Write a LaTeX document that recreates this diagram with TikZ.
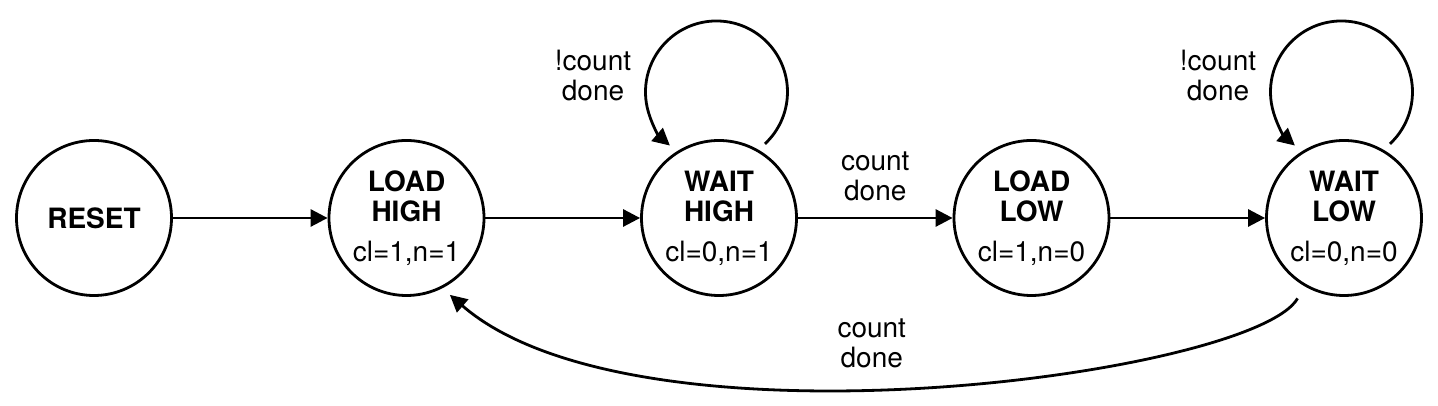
\documentclass[tikz,border=0pt]{standalone}
\usepackage{fontspec}
\setmainfont{TeX Gyre Heros}
\usepackage{tikz}
\usetikzlibrary{positioning}
\usetikzlibrary{arrows.meta}

\begin{document}
\begin{tikzpicture}
                [x=1pt, y=1pt,
                 state/.style = {draw, circle, line width=2.8pt, minimum size=155pt, inner sep=0pt,
                                 align=center, font=\fontsize{28}{30}\selectfont},
                 lbl/.style = {inner sep=0pt, align=center, font=\fontsize{28}{30}\selectfont},
                 arr/.style = {draw, line width=2.8pt, -{Triangle[length=17pt,width=17pt]}}]

                \useasboundingbox (0,0) rectangle (1438,406);

                \node[state] (rst) at (94,188) {\textbf{RESET}};
                \node[state] (lh) at (406.5,188) {\textbf{LOAD}\\\textbf{HIGH}\\[10pt]cl=1,n=1};
                \node[state] (wh) at (719,188) {\textbf{WAIT}\\\textbf{HIGH}\\[10pt]cl=0,n=1};
                \node[state] (ll) at (1031.5,188) {\textbf{LOAD}\\\textbf{LOW}\\[10pt]cl=1,n=0};
                \node[state] (wl) at (1344,188) {\textbf{WAIT}\\\textbf{LOW}\\[10pt]cl=0,n=0};

                \path (rst) edge[arr] (lh);
                \path (lh) edge[arr] (wh);
                \path (wh) edge[arr] node[lbl, above=16pt] (whll) {count\\done} (ll);
                \path (ll) edge[arr] (wl);

                % self loops
                \draw[arr] ([shift={(45.9,74.1)}]wh.center) arc[start angle=-47, end angle=229, radius=71];
                \node[lbl, anchor=south] (whwh) at ([shift={(-126,117)}]wh.center) {!count\\done};
                \draw[arr] ([shift={(45.9,74.1)}]wl.center) arc[start angle=-47, end angle=229, radius=71];
                \node[lbl, anchor=south] (wlwl) at ([shift={(-126,117)}]wl.center) {!count\\done};

                % back to load high
                \draw[arr, shorten <=14pt, shorten >=10pt] (wl.240) .. controls +(240:102) and +(-41:259) .. (lh.297)
                    node[lbl, pos=0.55, above=17pt] (wllh) {count\\done};

            \end{tikzpicture}
\end{document}
